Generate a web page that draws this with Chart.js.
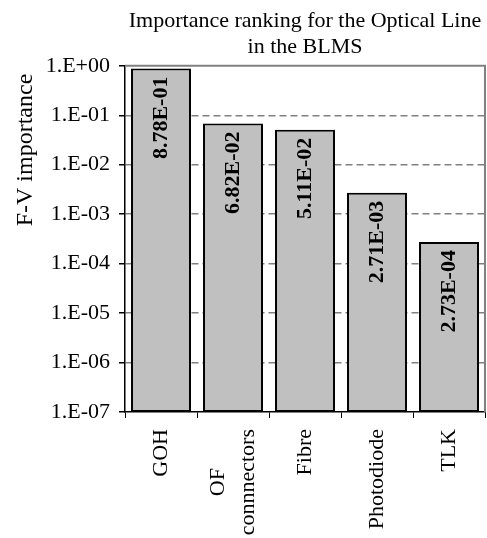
<!DOCTYPE html>
<html>
<head>
<meta charset="utf-8">
<script src="https://cdn.jsdelivr.net/npm/chart.js@4/dist/chart.umd.min.js"></script>
<style>
  html, body { margin: 0; padding: 0; background: #fff; }
  #wrap { width: 487px; height: 538px; }
</style>
</head>
<body>
<div id="wrap"><canvas id="chart"></canvas></div>
<script>
// --- DATOS ---
const categories = ['GOH', ['OF', 'connnectors'], 'Fibre', 'Photodiode', 'TLK'];
const importance = [8.78e-1, 6.82e-2, 5.11e-2, 2.71e-3, 2.73e-4];
const valueLabels = ['8.78E-01', '6.82E-02', '5.11E-02', '2.71E-03', '2.73E-04'];
const yTickValues = [1, 1e-1, 1e-2, 1e-3, 1e-4, 1e-5, 1e-6, 1e-7];
const yTickLabels = ['1.E+00', '1.E-01', '1.E-02', '1.E-03', '1.E-04', '1.E-05', '1.E-06', '1.E-07'];

const FONT = '"Liberation Serif", "Times New Roman", serif';

// --- DIBUJO EXTRA: marco, etiquetas de valor, título del eje, etiquetas x ---
const extrasPlugin = {
    id: 'extras',
    beforeDatasetsDraw(chart) {
        const { ctx, chartArea: a } = chart;
        ctx.save();
        ctx.strokeStyle = '#808080';
        ctx.lineWidth = 2;
        ctx.beginPath();
        ctx.moveTo(a.left, a.top);
        ctx.lineTo(a.right, a.top);
        ctx.lineTo(a.right, a.bottom);
        ctx.stroke();
        ctx.restore();
    },
    afterDatasetsDraw(chart) {
        const { ctx } = chart;
        const meta = chart.getDatasetMeta(0);
        ctx.save();
        ctx.fillStyle = '#000';
        ctx.font = 'bold 22px ' + FONT;
        ctx.textAlign = 'right';
        ctx.textBaseline = 'middle';
        meta.data.forEach((bar, i) => {
            ctx.save();
            ctx.translate(bar.x, bar.y + 8);
            ctx.rotate(-Math.PI / 2);
            ctx.fillText(valueLabels[i], 0, 0);
            ctx.restore();
        });
        ctx.restore();
    },
    afterDraw(chart) {
        const { ctx } = chart;
        const xScale = chart.scales.x;

        // título del eje Y
        ctx.save();
        ctx.fillStyle = '#000';
        ctx.font = '24px ' + FONT;
        ctx.textAlign = 'center';
        ctx.textBaseline = 'middle';
        ctx.translate(26, 150);
        ctx.rotate(-Math.PI / 2);
        ctx.fillText('F-V importance', 0, 0);
        ctx.restore();

        // etiquetas de categoría (rotadas, líneas centradas entre sí)
        ctx.save();
        ctx.fillStyle = '#000';
        ctx.font = '22px ' + FONT;
        ctx.textBaseline = 'middle';
        ctx.textAlign = 'center';
        const lineH = 30;
        categories.forEach((cat, i) => {
            const lines = Array.isArray(cat) ? cat : [cat];
            const w = Math.max(...lines.map(l => ctx.measureText(l).width));
            const x = xScale.getPixelForTick(i);
            ctx.save();
            ctx.translate(x, xScale.top + 17);
            ctx.rotate(-Math.PI / 2);
            lines.forEach((l, j) => {
                ctx.fillText(l, -w / 2, (j - (lines.length - 1) / 2) * lineH);
            });
            ctx.restore();
        });
        ctx.restore();
    }
};

const ctx = document.getElementById('chart').getContext('2d');
new Chart(ctx, {
    type: 'bar',
    data: {
        labels: categories,
        datasets: [{
            data: importance,
            backgroundColor: '#c0c0c0',
            borderColor: '#000',
            borderWidth: 2,
            borderSkipped: false,
            barPercentage: 0.833,
            categoryPercentage: 1
        }]
    },
    options: {
        responsive: true,
        maintainAspectRatio: false,
        animation: false,
        layout: { padding: { left: 0, right: 2, top: 0, bottom: 0 } },
        plugins: {
            legend: { display: false },
            tooltip: { enabled: false },
            title: {
                display: true,
                fullSize: false,
                text: ['Importance ranking for the Optical Line', 'in the BLMS'],
                color: '#000',
                font: { family: FONT, size: 22, weight: 'normal', lineHeight: 1.2 },
                padding: { top: 8, bottom: 5 }
            }
        },
        scales: {
            x: {
                offset: true,
                grid: {
                    offset: true,
                    drawOnChartArea: false,
                    drawTicks: true,
                    tickLength: 6,
                    tickColor: '#000'
                },
                border: { display: true, color: '#000', width: 1.5 },
                ticks: { display: false },
                afterFit(scale) { scale.height = 126; }
            },
            y: {
                type: 'logarithmic',
                min: 1e-7,
                max: 1,
                afterBuildTicks(scale) {
                    scale.ticks = yTickValues.map(v => ({ value: v }));
                },
                ticks: {
                    color: '#000',
                    font: { family: FONT, size: 22 },
                    padding: 9,
                    callback: (value) => {
                        const i = yTickValues.indexOf(value);
                        return i >= 0 ? yTickLabels[i] : '';
                    }
                },
                grid: {
                    color: (c) => (c.tick && (c.tick.value === 1 || c.tick.value === 1e-7)) ? 'rgba(0,0,0,0)' : '#808080',
                    lineWidth: 1.5,
                    drawTicks: true,
                    tickLength: 6,
                    tickColor: '#000',
                    tickBorderDash: []
                },
                border: { display: true, color: '#000', width: 1.5, dash: [7, 4] },
                afterFit(scale) { scale.width = 125; }
            }
        }
    },
    plugins: [extrasPlugin]
});
</script>
</body>
</html>
